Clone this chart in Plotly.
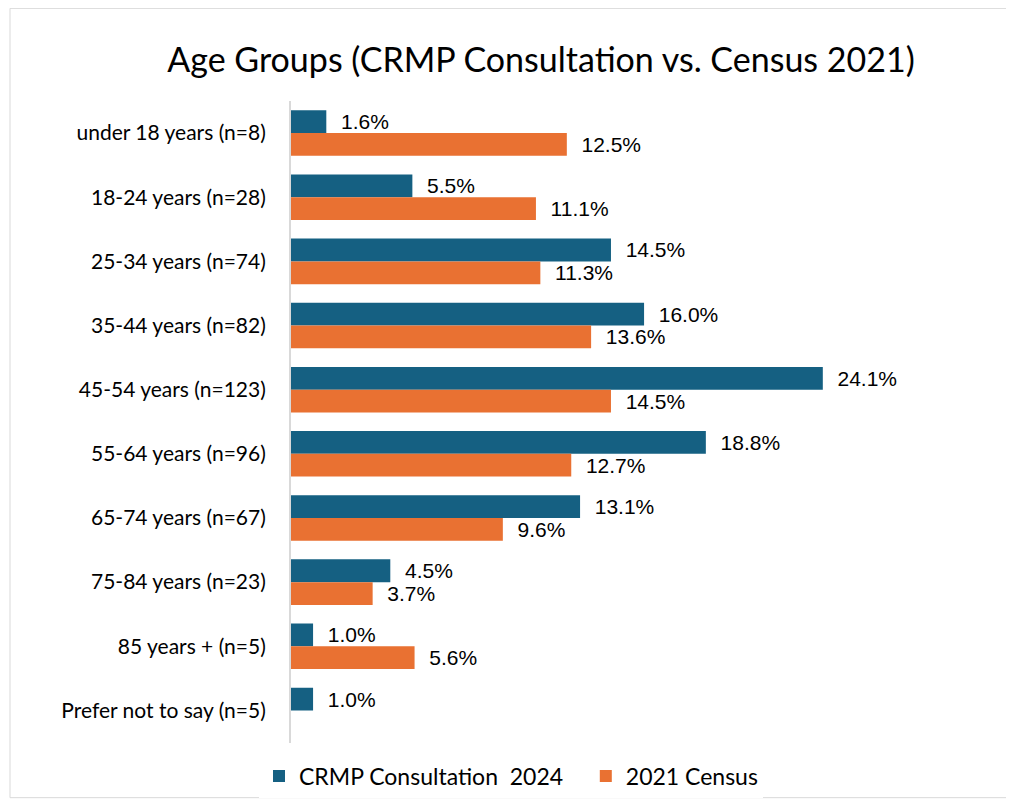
import plotly.graph_objects as go

categories = ["under 18 years (n=8)", "18-24 years (n=28)", "25-34 years (n=74)",
              "35-44 years (n=82)", "45-54 years (n=123)", "55-64 years (n=96)",
              "65-74 years (n=67)", "75-84 years (n=23)", "85 years + (n=5)",
              "Prefer not to say (n=5)"]
crmp_2024 = [1.6, 5.5, 14.5, 16.0, 24.1, 18.8, 13.1, 4.5, 1.0, 1.0]
census_2021 = [12.5, 11.1, 11.3, 13.6, 14.5, 12.7, 9.6, 3.7, 5.6, None]

series_names = ["CRMP Consultation\u00a0\u00a02024\u00a0\u00a0\u00a0", "2021 Census"]
colors = ["#156082", "#E97132"]

label_font = dict(family="Liberation Sans, Arial, sans-serif", size=21, color="#000000")
main_font = "Lato, Open Sans, sans-serif"

# page body has an 8px margin; figure coordinates are offset accordingly
W, H = 1006, 801
off = 8
plot_l, plot_r, plot_t, plot_b = 291 - off, 953 - off, 101 - off, 752 - off

fig = go.Figure()
for name, vals, col in zip(series_names, [crmp_2024, census_2021], colors):
    fig.add_trace(go.Bar(
        y=categories, x=vals, name=name, orientation="h",
        marker=dict(color=col, line=dict(width=0)),
        text=[None if v is None else "\u00a0\u00a0%.1f%%" % v for v in vals],
        textposition="outside", textfont=label_font, cliponaxis=False,
        constraintext="none",
    ))

pw, ph = plot_r - plot_l, plot_b - plot_t
fig.update_layout(
    width=W, height=H,
    paper_bgcolor="white", plot_bgcolor="white",
    barmode="group", bargap=0.29, bargroupgap=0,
    margin=dict(l=plot_l, r=W - plot_r, t=plot_t, b=H - plot_b, pad=0),
    title=dict(text="Age Groups (CRMP Consultation vs. Census 2021)",
               font=dict(family=main_font, size=34, color="#000000"),
               x=(541 - off) / W, xref="container", xanchor="center",
               y=1 - (60 - off) / H, yref="container", yanchor="middle"),
    xaxis=dict(range=[0, 30], visible=False, showgrid=False, zeroline=False),
    yaxis=dict(autorange="reversed", showline=True, linecolor="#d9d9d9", linewidth=2,
               showgrid=False, ticks="", ticklabelstandoff=19,
               tickfont=dict(family=main_font, size=21, color="#000000")),
    legend=dict(orientation="h", x=(511 - off) / W, xref="container", xanchor="center",
                y=1 - (776 - off) / H, yref="container", yanchor="middle",
                font=dict(family=main_font, size=23, color="#000000"),
                traceorder="normal", itemwidth=30),
    showlegend=True,
    shapes=[dict(type="rect", xref="paper", yref="paper",
                 x0=(10 - off - plot_l) / pw, x1=(1013 - off - plot_l) / pw,
                 y0=(plot_b - (808 - off)) / ph, y1=(plot_b - (7 - off)) / ph,
                 line=dict(color="#d9d9d9", width=1), layer="below")],
)

fig.write_html("out.html")
